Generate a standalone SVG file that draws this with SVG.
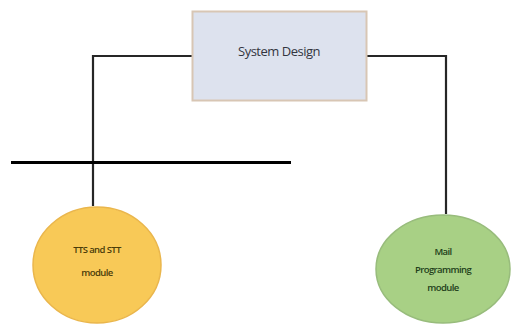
<svg xmlns="http://www.w3.org/2000/svg" width="511" height="327" viewBox="0 0 511 327">
<style>
.conn{fill:none;stroke:#262626;stroke-width:2.2}
.lbl{font-family:"Open Sans","Liberation Sans",sans-serif;text-anchor:middle}
</style>
<rect width="511" height="327" fill="#ffffff"/>
<g id="connectors">
<polyline class="conn" points="192,56 93,56 93,206"/>
<polyline class="conn" points="367,56 446,56 446,214"/>
<line x1="11" y1="162.5" x2="291" y2="162.5" stroke="#000" stroke-width="3"/>
</g>
<g id="system-design">
<rect x="192.5" y="11.5" width="174" height="89" fill="#dde2ee" stroke="#d8c6b4" stroke-width="2"/>
<text class="lbl" x="279" y="56" font-size="13" fill="#33353f" letter-spacing="-0.5">System Design</text>
</g>
<g id="tts-stt">
<ellipse cx="97" cy="265" rx="64" ry="58" fill="#f8c957" stroke="#eab64c" stroke-width="1.5"/>
<text class="lbl" x="97" y="253" font-size="9.5" font-weight="600" fill="#4a3c0a" letter-spacing="-0.6">TTS and STT</text>
<text class="lbl" x="97" y="276" font-size="9.5" font-weight="600" fill="#4a3c0a" letter-spacing="-0.6">module</text>
</g>
<g id="mail">
<ellipse cx="443" cy="269" rx="67" ry="54" fill="#a8d085" stroke="#98bc7c" stroke-width="1.5"/>
<text class="lbl" x="443" y="255" font-size="9.5" font-weight="600" fill="#22401a" letter-spacing="-0.6">Mail</text>
<text class="lbl" x="443" y="273" font-size="9.5" font-weight="600" fill="#22401a" letter-spacing="-0.6">Programming</text>
<text class="lbl" x="443" y="291" font-size="9.5" font-weight="600" fill="#22401a" letter-spacing="-0.6">module</text>
</g>
</svg>
